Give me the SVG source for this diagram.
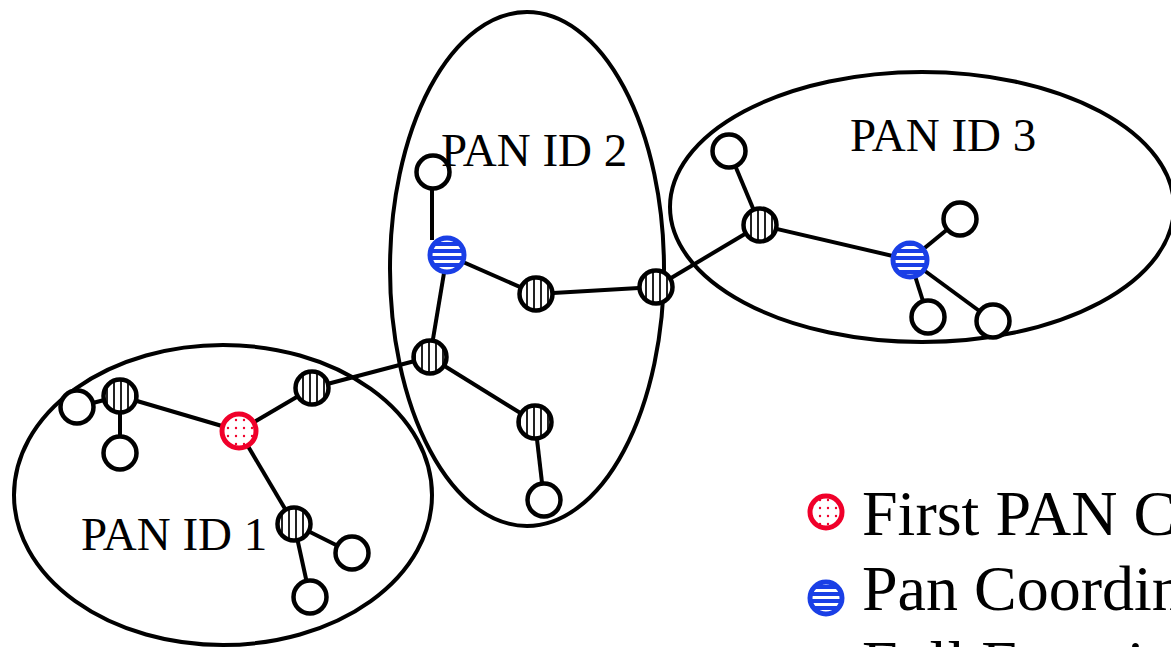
<svg xmlns="http://www.w3.org/2000/svg" width="1171" height="647" viewBox="0 0 1171 647">
<style>
.pan{fill:none;stroke:#000;stroke-width:4}
.edge{stroke:#000;stroke-width:4;fill:none}
.end{fill:#fff;stroke:#000;stroke-width:4.5}
.ffd{fill:url(#vstripe);stroke:#000;stroke-width:4.5}
.coord{fill:url(#hstripe);stroke:#1a3fe6;stroke-width:5}
.first{fill:url(#dots);stroke:#f0002a;stroke-width:5}
.lbl{font-family:"Liberation Serif","Times New Roman",serif;font-size:47px;fill:#000}
.leg{font-family:"Liberation Serif","Times New Roman",serif;font-size:64px;fill:#000}
</style>
<defs>
<pattern id="vstripe" patternUnits="userSpaceOnUse" width="7" height="10" x="1">
<rect width="7" height="10" fill="#fff"/>
<rect x="0" width="2" height="10" fill="#222"/>
</pattern>
<pattern id="hstripe" patternUnits="userSpaceOnUse" width="10" height="7" y="1">
<rect width="10" height="7" fill="#1a3fe6"/>
<rect y="0" width="10" height="3" fill="#fff"/>
</pattern>
<pattern id="dots" patternUnits="userSpaceOnUse" width="8" height="8">
<rect width="8" height="8" fill="#fff"/>
<circle cx="4" cy="4" r="1.2" fill="#f0002a"/>
</pattern>
</defs>
<rect width="1171" height="647" fill="#fff"/>
<g id="pans">
<ellipse class="pan" cx="223" cy="495" rx="209" ry="150"/>
<ellipse class="pan" cx="527" cy="269" rx="137" ry="257"/>
<ellipse class="pan" cx="922" cy="207" rx="252" ry="135"/>
</g>
<g id="connectors">
<line class="edge" x1="120" y1="396" x2="77" y2="407"/>
<line class="edge" x1="120" y1="396" x2="120" y2="453"/>
<line class="edge" x1="120" y1="396" x2="239" y2="431"/>
<line class="edge" x1="239" y1="431" x2="312" y2="388"/>
<line class="edge" x1="239" y1="431" x2="294" y2="524"/>
<line class="edge" x1="294" y1="524" x2="352" y2="553"/>
<line class="edge" x1="294" y1="524" x2="310" y2="597"/>
<line class="edge" x1="312" y1="388" x2="430" y2="357"/>
<line class="edge" x1="430" y1="357" x2="447" y2="255"/>
<line class="edge" x1="430" y1="357" x2="535" y2="422"/>
<line class="edge" x1="535" y1="422" x2="544" y2="500"/>
<line class="edge" x1="432" y1="240" x2="432" y2="172"/>
<line class="edge" x1="447" y1="255" x2="536" y2="294"/>
<line class="edge" x1="536" y1="294" x2="656" y2="287"/>
<line class="edge" x1="656" y1="287" x2="760" y2="225"/>
<line class="edge" x1="760" y1="225" x2="729" y2="151"/>
<line class="edge" x1="760" y1="225" x2="910" y2="260"/>
<line class="edge" x1="910" y1="260" x2="960" y2="219"/>
<line class="edge" x1="910" y1="260" x2="928" y2="317"/>
<line class="edge" x1="910" y1="260" x2="993" y2="321"/>
</g>
<g id="n-first"><circle class="first" cx="239" cy="431" r="17"/></g>
<g id="n-c2"><circle class="coord" cx="447" cy="255" r="17"/></g>
<g id="n-c3"><circle class="coord" cx="910" cy="260" r="17"/></g>
<g id="n-f1"><circle class="ffd" cx="120" cy="396" r="16.5"/></g>
<g id="n-f2"><circle class="ffd" cx="312" cy="388" r="16.5"/></g>
<g id="n-f3"><circle class="ffd" cx="294" cy="524" r="16.5"/></g>
<g id="n-f4"><circle class="ffd" cx="430" cy="357" r="16.5"/></g>
<g id="n-f5"><circle class="ffd" cx="536" cy="294" r="16.5"/></g>
<g id="n-f6"><circle class="ffd" cx="656" cy="287" r="16.5"/></g>
<g id="n-f7"><circle class="ffd" cx="535" cy="422" r="16.5"/></g>
<g id="n-f8"><circle class="ffd" cx="760" cy="225" r="16.5"/></g>
<g id="n-e1"><circle class="end" cx="77" cy="407" r="16.5"/></g>
<g id="n-e2"><circle class="end" cx="120" cy="453" r="16.5"/></g>
<g id="n-e3"><circle class="end" cx="352" cy="553" r="16.5"/></g>
<g id="n-e4"><circle class="end" cx="310" cy="597" r="16.5"/></g>
<g id="n-e5"><circle class="end" cx="433" cy="172" r="16.5"/></g>
<g id="n-e6"><circle class="end" cx="544" cy="500" r="16.5"/></g>
<g id="n-e7"><circle class="end" cx="729" cy="151" r="16.5"/></g>
<g id="n-e8"><circle class="end" cx="960" cy="219" r="16.5"/></g>
<g id="n-e9"><circle class="end" cx="928" cy="317" r="16.5"/></g>
<g id="n-e10"><circle class="end" cx="993" cy="321" r="16.5"/></g>
<g id="labels">
<text class="lbl" x="441" y="166">PAN ID 2</text>
<text class="lbl" x="850" y="151">PAN ID 3</text>
<text class="lbl" x="81" y="550">PAN ID 1</text>
</g>
<g id="legend">
<circle class="first" cx="826" cy="512" r="16"/>
<text class="leg" x="862" y="535">First PAN Coordinator</text>
<circle class="coord" cx="826" cy="598" r="16"/>
<text class="leg" x="862" y="610">Pan Coordinator</text>
<circle class="ffd" cx="826" cy="673" r="16"/>
<text class="leg" x="862" y="685">Full Function Device</text>
</g>
</svg>
